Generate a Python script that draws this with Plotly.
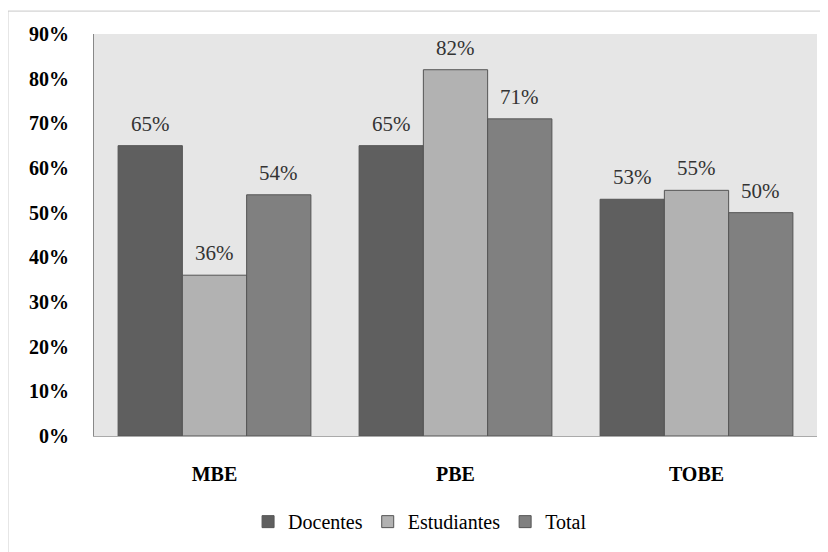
import plotly.graph_objects as go

categories = ["MBE", "PBE", "TOBE"]
docentes = [65, 65, 53]
estudiantes = [36, 82, 55]
total = [54, 71, 50]
series_names = ["Docentes", "Estudiantes", "Total"]
colors = ["#5f5f5f", "#b2b2b2", "#808080"]
y_ticks = [0, 10, 20, 30, 40, 50, 60, 70, 80, 90]

FONT = "'Times New Roman', 'Liberation Serif', serif"
BARGAP = 0.2

fig = go.Figure()
series = [docentes, estudiantes, total]
for name, vals, col in zip(series_names, series, colors):
    fig.add_trace(go.Bar(
        x=categories, y=vals, name=name,
        marker=dict(color=col, line=dict(color="#555555", width=1)),
    ))

# value labels placed above each bar via data coordinates
n = len(series)
w = (1 - BARGAP) / n
annotations = []
for si, vals in enumerate(series):
    off = (si - (n - 1) / 2) * w
    for ci, v in enumerate(vals):
        annotations.append(dict(
            x=ci + off, y=v, xref="x", yref="y", text=f"{v}%", showarrow=False,
            yanchor="bottom", yshift=8,
            font=dict(family=FONT, size=21, color="#333333"),
        ))

fig.update_layout(
    width=820, height=544,
    margin=dict(l=86, r=11, t=26, b=114),
    paper_bgcolor="white", plot_bgcolor="#e6e6e6",
    barmode="group", bargap=BARGAP, bargroupgap=0,
    font=dict(family=FONT, size=18, color="black"),
    showlegend=True,
    legend=dict(orientation="h", x=0.451, xanchor="center", y=-0.213, yanchor="middle",
                font=dict(family=FONT, size=20, color="black"),
                itemwidth=30),
    yaxis=dict(range=[0, 90], tickvals=y_ticks, ticktext=[f"{t}%" for t in y_ticks],
               showgrid=False, zeroline=False, showline=True, linecolor="#888888", linewidth=1,
               tickfont=dict(family=FONT, size=20, color="black", weight="bold"),
               ticks="", ticklabelstandoff=20),
    xaxis=dict(showgrid=False, showline=True, linecolor="#aaaaaa", linewidth=1,
               tickfont=dict(family=FONT, size=20, color="black", weight="bold"),
               ticks="", ticklabelstandoff=20),
    annotations=annotations,
    shapes=[dict(type="rect", xref="paper", yref="paper", x0=-0.119, x1=1.03, y0=-0.3, y1=1.057,
                 line=dict(color="#c8c8c8", width=1), fillcolor="rgba(0,0,0,0)", layer="below")],
)

fig.write_html("out.html")
